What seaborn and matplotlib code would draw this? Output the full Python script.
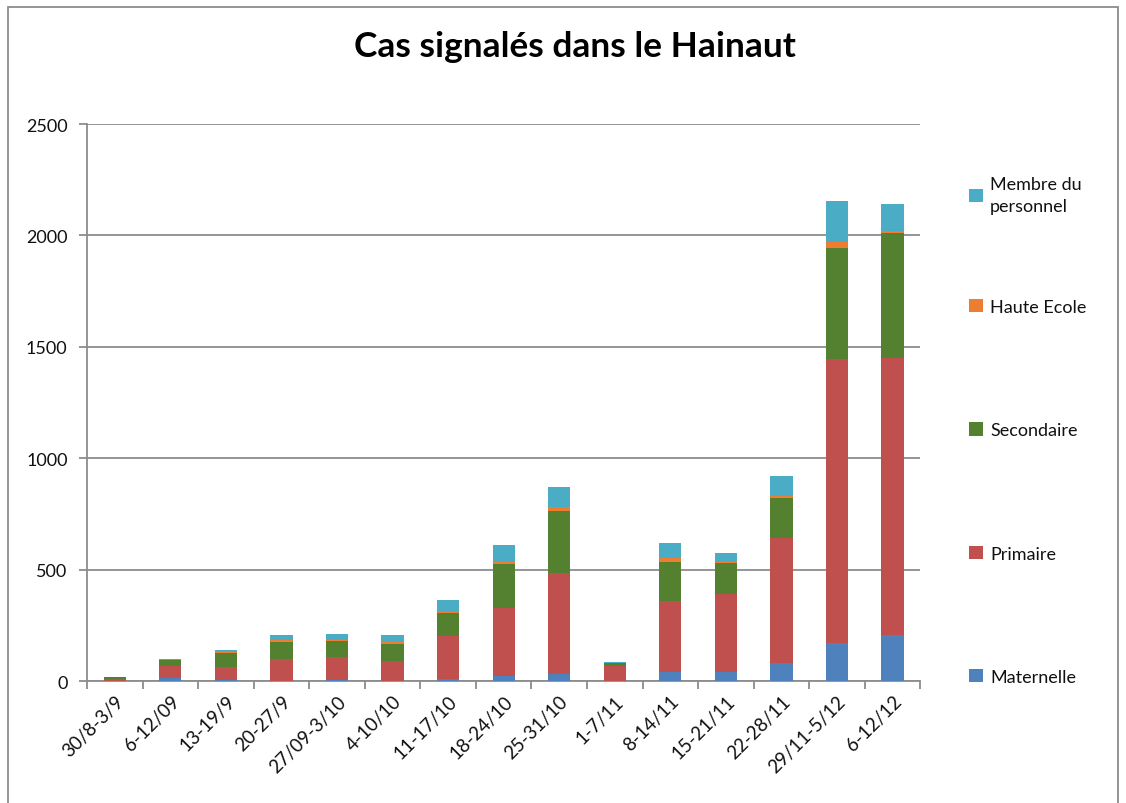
import pandas as pd
import seaborn as sns
import matplotlib.pyplot as plt
import matplotlib
from matplotlib.patches import Rectangle, Patch
import numpy as np

matplotlib.use('Agg')

weeks = ['30/8-3/9', '6-12/09', '13-19/9', '20-27/9', '27/09-3/10', '4-10/10',
         '11-17/10', '18-24/10', '25-31/10', '1-7/11', '8-14/11', '15-21/11',
         '22-28/11', '29/11-5/12', '6-12/12']

maternelle = [1, 13, 6, 2, 6, 2, 9, 22, 33, 1, 42, 42, 79, 171, 205]
primaire = [10, 56, 55, 98, 104, 86, 193, 304, 450, 66, 316, 350, 563, 1275, 1244]
secondaire = [5, 24, 66, 75, 70, 80, 103, 198, 282, 12, 175, 138, 179, 499, 564]
haute_ecole = [0, 1, 2, 9, 4, 9, 6, 10, 16, 1, 21, 6, 11, 27, 6]
membre = [1, 4, 12, 21, 27, 29, 54, 76, 90, 7, 67, 40, 88, 184, 120]

series = ['Maternelle', 'Primaire', 'Secondaire', 'Haute Ecole', 'Membre du\npersonnel']
colors = ['#4F81BD', '#C0504D', '#53812F', '#ED7D31', '#4BACC6']

df = pd.DataFrame({'semaine': weeks,
                   'Maternelle': maternelle,
                   'Primaire': primaire,
                   'Secondaire': secondaire,
                   'Haute Ecole': haute_ecole,
                   'Membre du\npersonnel': membre})

sns.set_style('white')
plt.rcParams['font.family'] = ['Lato', 'DejaVu Sans']
plt.rcParams['text.color'] = '#111111'
plt.rcParams['xtick.labelcolor'] = '#111111'
plt.rcParams['ytick.labelcolor'] = '#111111'

fig = plt.figure(figsize=(11.26, 8.04), dpi=100)
ax = fig.add_axes([0.0773, 0.1517, 0.740, 0.6928])

# stacked bars: draw cumulative totals from the top down
cum = df[series].cumsum(axis=1)
for name, col in reversed(list(zip(series, colors))):
    sns.barplot(x=df['semaine'], y=cum[name], color=col, width=0.4,
                saturation=1, linewidth=0, edgecolor='none', ax=ax, zorder=3)

ax.set_ylim(0, 2500)
ax.set_xlim(-0.5, len(weeks) - 0.5)
ax.set_yticks(np.arange(0, 2501, 500))
ax.yaxis.grid(True, color='#8c8c8c', linewidth=1.3, zorder=0)
ax.set_axisbelow(True)
ax.set_xlabel('')
ax.set_ylabel('')

for s in ['top', 'right']:
    ax.spines[s].set_visible(False)
ax.spines['left'].set_color('#8c8c8c')
ax.spines['bottom'].set_color('#8c8c8c')
ax.spines['left'].set_linewidth(1.3)
ax.spines['bottom'].set_linewidth(1.3)

ax.set_xticks(range(len(weeks)))
ax.set_xticklabels(weeks, rotation=45, ha='right', rotation_mode='anchor', fontsize=13.5)
ax.set_xticks(np.arange(-0.5, len(weeks), 1), minor=True)
ax.tick_params(axis='x', which='major', length=0, pad=8)
ax.tick_params(axis='x', which='minor', length=6, color='#8c8c8c', width=1.3,
               direction='out', bottom=True)
ax.tick_params(axis='y', length=6, color='#8c8c8c', width=1.3, direction='out',
               labelsize=13, pad=8, left=True)

fig.text(0.511, 0.942, 'Cas signalés dans le Hainaut', ha='center', va='center',
         fontsize=25.4, fontweight='bold', color='black')

# legend: top entry (two lines) on its own, the other four evenly spaced below
leg_kw = dict(loc='center left', frameon=False, fontsize=13,
              handlelength=0.75, handleheight=0.75, handletextpad=0.4,
              borderaxespad=0, borderpad=0)
top = fig.legend([Patch(facecolor=colors[4], edgecolor='none')], [series[4]],
                 bbox_to_anchor=(0.861, 1 - 196 / 804), **leg_kw)
for t in top.get_texts():
    t.set_linespacing(1.45)
fig.legend([Patch(facecolor=c, edgecolor='none') for c in reversed(colors[:4])],
           list(reversed(series[:4])), bbox_to_anchor=(0.861, 1 - 493 / 804),
           labelspacing=5.95, **leg_kw)

fig.patches.append(Rectangle((8 / 1126, -0.02), 1110 / 1126, 1.01 - 8 / 804 + 0.01,
                             transform=fig.transFigure, fill=False,
                             edgecolor='#8c8c8c', linewidth=1.3))

fig.savefig('out.png', dpi=100)
plt.close(fig)
